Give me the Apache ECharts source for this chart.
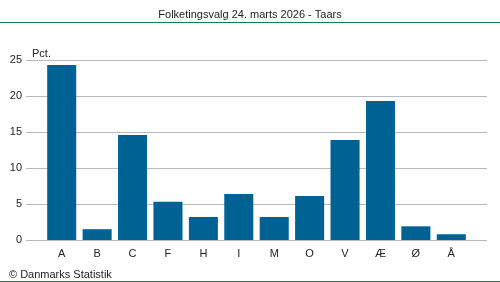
<!DOCTYPE html>
<html><head><meta charset="utf-8">
<script src="https://cdn.jsdelivr.net/npm/echarts@6/dist/echarts.min.js"></script>
<style>html,body{margin:0;padding:0;background:#fff}#c{width:500px;height:282px}</style>
</head><body><div id="c"></div>
<script>
const categories = ['A','B','C','F','H','I','M','O','V','Æ','Ø','Å'];
const values = [24.3, 1.5, 14.6, 5.3, 3.2, 6.4, 3.2, 6.1, 13.9, 19.3, 1.9, 0.8];
const yTicks = [0, 5, 10, 15, 20, 25];
const titleText = 'Folketingsvalg 24. marts 2026 - Taars';
const unitText = 'Pct.';
const sourceText = '© Danmarks Statistik';

const font = 'Arial, "Liberation Sans", sans-serif';
const chart = echarts.init(document.getElementById('c'), null, {renderer: 'canvas'});
chart.setOption({
  animation: false,
  backgroundColor: '#fff',
  title: [
    {text: titleText, left: 'center', top: 4, textStyle: {fontFamily: font, fontSize: 11, fontWeight: 'normal', color: '#222'}},
    {text: unitText, left: 27, top: 43, textStyle: {fontFamily: font, fontSize: 11, fontWeight: 'normal', color: '#222'}},
    {text: sourceText, left: 4, top: 264, textStyle: {fontFamily: font, fontSize: 11, fontWeight: 'normal', color: '#222'}}
  ],
  graphic: [
    {type: 'line', shape: {x1: 0, y1: 22.5, x2: 500, y2: 22.5}, style: {stroke: '#0b8545', lineWidth: 1}},
    {type: 'line', shape: {x1: 0, y1: 281.5, x2: 500, y2: 281.5}, style: {stroke: '#0b8545', lineWidth: 1}}
  ],
  grid: [
    {left: 26, right: 13, top: 60, bottom: 42, containLabel: false},
    {left: 44, right: 31, top: 60, bottom: 42, containLabel: false}
  ],
  xAxis: [
    {type: 'value', gridIndex: 0, show: false, min: 0, max: 1},
    {type: 'category', gridIndex: 1, data: categories,
     axisLine: {show: false}, axisTick: {show: false},
     axisLabel: {fontFamily: font, fontSize: 11, color: '#222', margin: 8}}
  ],
  yAxis: [
    {type: 'value', gridIndex: 0, min: 0, max: 25, interval: 5,
     axisLine: {show: false}, axisTick: {show: false},
     axisLabel: {fontFamily: font, fontSize: 11, color: '#222', margin: 4},
     splitLine: {lineStyle: {color: '#b9b9c6', width: 1}}},
    {type: 'value', gridIndex: 1, min: 0, max: 25, interval: 5, show: false, splitLine: {show: false}}
  ],
  series: [{
    type: 'bar', xAxisIndex: 1, yAxisIndex: 1, data: values,
    barCategoryGap: '18%', itemStyle: {color: '#006193'}
  }]
});
</script></body></html>
